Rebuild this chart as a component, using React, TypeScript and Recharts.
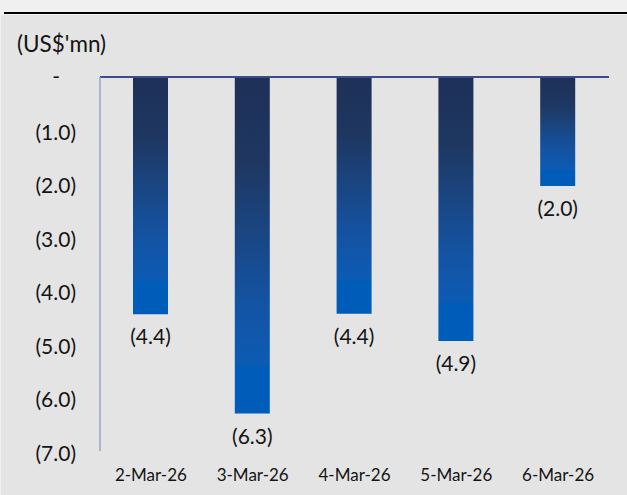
import React from 'react';
import { BarChart, Bar, XAxis, YAxis, ReferenceLine, LabelList } from 'recharts';

const categories = ['2-Mar-26', '3-Mar-26', '4-Mar-26', '5-Mar-26', '6-Mar-26'];
const values = [-4.44, -6.3, -4.43, -4.94, -2.04];
const yTicks = [0, -1, -2, -3, -4, -5, -6, -7];

const data = categories.map((c, i) => ({ name: c, value: values[i] }));

const FONT = 'Lato, "Open Sans", sans-serif';
const TEXT = '#141414';

const fmt = (v: number) => (v === 0 ? '-' : `(${Math.abs(v).toFixed(1)})`);

const YTick = (props: any) => {
  const { y, payload } = props;
  const v = payload.value as number;
  if (v === 0) {
    return (
      <text x={60} y={y + 7} textAnchor="end" fontSize={21} fontFamily={FONT} fill={TEXT}>
        -
      </text>
    );
  }
  return (
    <text x={76} y={y + 9.5} textAnchor="end" fontSize={21} fontFamily={FONT} fill={TEXT}>
      {fmt(v)}
    </text>
  );
};

const XTick = (props: any) => {
  const { x, y, payload } = props;
  return (
    <text x={x} y={y + 22} textAnchor="middle" fontSize={17} fontFamily={FONT} fill={TEXT}>
      {payload.value}
    </text>
  );
};

const BarLabel = (props: any) => {
  const { x, y, width, height, value } = props;
  const bottom = Math.max(Number(y), Number(y) + Number(height));
  return (
    <text
      x={Number(x) + Number(width) / 2}
      y={bottom + 30}
      textAnchor="middle"
      fontSize={21}
      fontFamily={FONT}
      fill={TEXT}
    >
      {fmt(Number(value))}
    </text>
  );
};

export default function App() {
  return (
    <div style={{ position: 'absolute', left: 0, top: 0, width: 627, height: 495, background: '#f0f0f0', overflow: 'hidden' }}>
      <div style={{ position: 'absolute', left: 1, top: 15, width: 626, height: 480, background: '#e4e4e4' }} />
      <div style={{ position: 'absolute', left: 4, top: 12, width: 623, height: 2, background: '#000' }} />
      <div
        style={{
          position: 'absolute',
          left: 17,
          top: 30,
          fontSize: 22.5,
          fontFamily: FONT,
          color: TEXT,
          lineHeight: '28px',
          whiteSpace: 'nowrap',
        }}
      >
        (US$'mn)
      </div>
      <div style={{ position: 'absolute', left: 0, top: 0 }}>
        <BarChart width={627} height={495} data={data} margin={{ top: 77, right: 18, left: 0, bottom: 0 }}>
          <defs>
            <linearGradient id="barGrad" x1="0" y1="0" x2="0" y2="1">
              <stop offset="0" stopColor="#1e3058" />
              <stop offset="0.25" stopColor="#1e3761" />
              <stop offset="0.45" stopColor="#1a4580" />
              <stop offset="0.65" stopColor="#1452a0" />
              <stop offset="0.82" stopColor="#0e5ab1" />
              <stop offset="0.855" stopColor="#0c5bb3" />
              <stop offset="0.86" stopColor="#005cb9" />
              <stop offset="1" stopColor="#005cb9" />
            </linearGradient>
          </defs>
          <XAxis
            dataKey="name"
            axisLine={false}
            tickLine={false}
            height={44}
            interval={0}
            tick={<XTick />}
          />
          <YAxis
            width={100}
            domain={[-7, 0]}
            ticks={yTicks}
            interval={0}
            axisLine={{ stroke: '#9aa5c9', strokeWidth: 1.5 }}
            tickLine={false}
            tick={<YTick />}
          />
          <Bar dataKey="value" fill="url(#barGrad)" barSize={35} isAnimationActive={false}>
            <LabelList dataKey="value" content={<BarLabel />} />
          </Bar>
          <ReferenceLine y={0} stroke="#3b4d86" strokeWidth={1.8} />
        </BarChart>
      </div>
    </div>
  );
}
